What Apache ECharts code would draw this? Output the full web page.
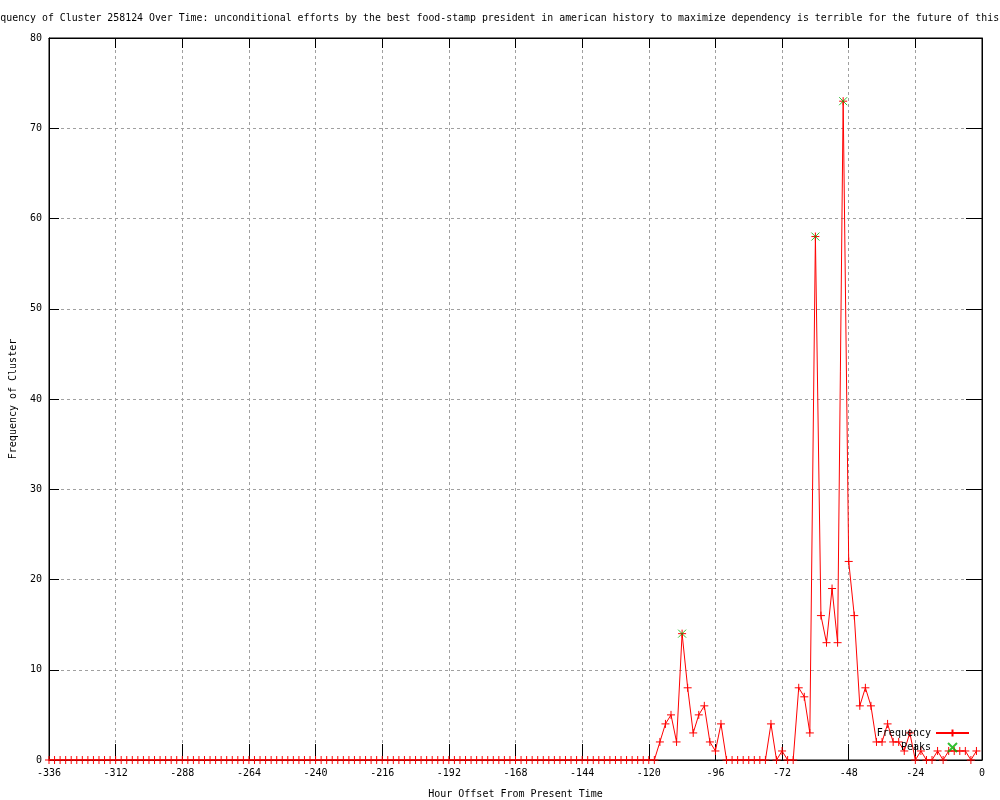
<!DOCTYPE html>
<html><head><meta charset="utf-8">
<script src="https://cdn.jsdelivr.net/npm/echarts@6/dist/echarts.min.js"></script>
<style>html,body{margin:0;padding:0;background:#fff}#c{width:1000px;height:800px}</style>
</head><body><div id="c"></div>
<script>
const titleText = 'Frequency of Cluster 258124 Over Time: unconditional efforts by the best food-stamp president in american history to maximize dependency is terrible for the future of this';
const xAxisName = 'Hour Offset From Present Time';
const yAxisName = 'Frequency of Cluster';
const seriesNames = ['Frequency', 'Peaks'];

const hours = [
  -336,-334,-332,-330,-328,-326,-324,-322,-320,-318,-316,-314,
  -312,-310,-308,-306,-304,-302,-300,-298,-296,-294,-292,-290,
  -288,-286,-284,-282,-280,-278,-276,-274,-272,-270,-268,-266,
  -264,-262,-260,-258,-256,-254,-252,-250,-248,-246,-244,-242,
  -240,-238,-236,-234,-232,-230,-228,-226,-224,-222,-220,-218,
  -216,-214,-212,-210,-208,-206,-204,-202,-200,-198,-196,-194,
  -192,-190,-188,-186,-184,-182,-180,-178,-176,-174,-172,-170,
  -168,-166,-164,-162,-160,-158,-156,-154,-152,-150,-148,-146,
  -144,-142,-140,-138,-136,-134,-132,-130,-128,-126,-124,-122,
  -120,-118,-116,-114,-112,-110,-108,-106,-104,-102,-100,-98,
  -96,-94,-92,-90,-88,-86,-84,-82,-80,-78,-76,-74,
  -72,-70,-68,-66,-64,-62,-60,-58,-56,-54,-52,-50,
  -48,-46,-44,-42,-40,-38,-36,-34,-32,-30,-28,-26,
  -24,-22,-20,-18,-16,-14,-12,-10,-8,-6,-4,-2
];
const freq = [
  0,0,0,0,0,0,0,0,0,0,0,0,
  0,0,0,0,0,0,0,0,0,0,0,0,
  0,0,0,0,0,0,0,0,0,0,0,0,
  0,0,0,0,0,0,0,0,0,0,0,0,
  0,0,0,0,0,0,0,0,0,0,0,0,
  0,0,0,0,0,0,0,0,0,0,0,0,
  0,0,0,0,0,0,0,0,0,0,0,0,
  0,0,0,0,0,0,0,0,0,0,0,0,
  0,0,0,0,0,0,0,0,0,0,0,0,
  0,0,2,4,5,2,14,8,3,5,6,2,
  1,4,0,0,0,0,0,0,0,0,4,0,
  1,0,0,8,7,3,58,16,13,19,13,73,
  22,16,6,8,6,2,2,4,2,2,1,3,
  0,1,0,0,1,0,1,1,1,1,0,1
];
const peakHours = [-108, -60, -50];
const peakValues = [14, 58, 73];

const FONT = 'DejaVu Sans Mono';
const chart = echarts.init(document.getElementById('c'), null, {renderer: 'canvas'});
const gridLine = {show: true, lineStyle: {color: '#a0a0a0', type: [3, 3], width: 1}};
const axisLine = {show: true, onZero: false, lineStyle: {color: '#000', width: 1}};
const labelStyle = {color: '#000', fontFamily: FONT, fontSize: 10};

const option = {
  animation: false,
  backgroundColor: '#fff',
  textStyle: {fontFamily: FONT},
  graphic: [{
    type: 'text', x: -17.5, y: 18,
    style: {text: titleText, fontFamily: FONT, fontSize: 9.9, fill: '#000', verticalAlign: 'middle', align: 'left'}
  }],
  grid: {left: 49, right: 18, top: 38, bottom: 40, show: true, borderColor: '#000', borderWidth: 1,
         containLabel: false, outerBoundsMode: 'none'},
  legend: {
    orient: 'vertical', align: 'right', right: 30, top: 728,
    itemWidth: 33, itemHeight: 9, itemGap: 4, padding: 0, selectedMode: false,
    textStyle: {fontFamily: FONT, fontSize: 10, color: '#000'},
    data: seriesNames
  },
  xAxis: [{
    type: 'value', min: -336, max: 0, interval: 24, position: 'bottom',
    axisLine: axisLine,
    axisTick: {show: true, inside: true, length: 16, lineStyle: {color: '#000'}},
    axisLabel: Object.assign({margin: 8}, labelStyle),
    splitLine: gridLine,
    name: xAxisName, nameLocation: 'middle', nameGap: 29,
    nameTextStyle: {fontFamily: FONT, fontSize: 10, color: '#000'}
  }, {
    type: 'value', min: -336, max: 0, interval: 24, position: 'top',
    axisLine: axisLine,
    axisTick: {show: true, inside: true, length: 10, lineStyle: {color: '#000'}},
    axisLabel: {show: false}, splitLine: {show: false}
  }],
  yAxis: [{
    type: 'value', min: 0, max: 80, interval: 10, position: 'left',
    axisLine: axisLine,
    axisTick: {show: true, inside: true, length: 10, lineStyle: {color: '#000'}},
    axisLabel: Object.assign({margin: 7}, labelStyle),
    splitLine: gridLine,
    name: yAxisName, nameLocation: 'middle', nameGap: 31,
    nameTextStyle: {fontFamily: FONT, fontSize: 10, color: '#000'}
  }, {
    type: 'value', min: 0, max: 80, interval: 10, position: 'right',
    axisLine: axisLine,
    axisTick: {show: true, inside: true, length: 16, lineStyle: {color: '#000'}},
    axisLabel: {show: false}, splitLine: {show: false}
  }],
  series: [{
    type: 'line', name: seriesNames[0], xAxisIndex: 0, yAxisIndex: 0,
    data: hours.map((h, i) => [h, freq[i]]),
    symbol: 'path://M0,5L10,5M5,0L5,10', symbolSize: 8, symbolKeepAspect: true,
    showAllSymbol: true,
    lineStyle: {color: '#ff0000', width: 1},
    itemStyle: {color: '#ff0000', borderColor: '#ff0000', borderWidth: 1},
    z: 3
  }, {
    type: 'scatter', name: seriesNames[1], xAxisIndex: 0, yAxisIndex: 0,
    data: peakHours.map((h, i) => [h, peakValues[i]]),
    symbol: 'path://M0,0L10,10M10,0L0,10', symbolSize: 8, symbolKeepAspect: true,
    itemStyle: {color: '#00b000', borderColor: '#00b000', borderWidth: 1},
    z: 4
  }]
};
chart.setOption(option);
</script>
</body></html>
